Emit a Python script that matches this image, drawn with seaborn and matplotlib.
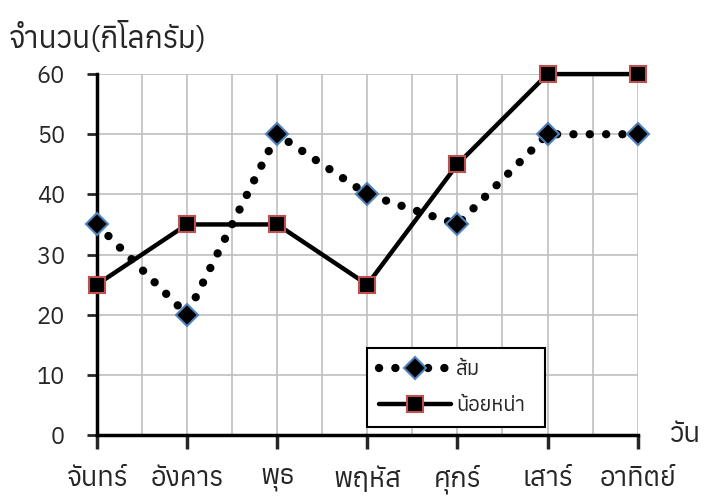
import pandas as pd
import seaborn as sns
import matplotlib
matplotlib.use("Agg")
import matplotlib.pyplot as plt
from matplotlib import font_manager
from matplotlib.ft2font import FT2Font
from matplotlib.ticker import MultipleLocator

# data
days = ["จันทร์", "อังคาร", "พุธ", "พฤหัส", "ศุกร์", "เสาร์", "อาทิตย์"]
orange = [35, 20, 50, 40, 35, 50, 50]      # ส้ม
custard = [25, 35, 35, 25, 45, 60, 60]     # น้อยหน่า
series_names = ["ส้ม", "น้อยหน่า"]

df = pd.DataFrame({
    "day": list(range(len(days))) * 2,
    "value": orange + custard,
    "series": [series_names[0]] * len(days) + [series_names[1]] * len(days),
})


# find an installed font that has Thai glyphs
def thai_font():
    found = []
    for f in font_manager.fontManager.ttflist:
        try:
            if 0x0E08 in FT2Font(f.fname).get_charmap():
                found.append(f.name)
        except Exception:
            pass
    return sorted(set(found))


thai = thai_font()

sns.set_style("white")
plt.rcParams["font.family"] = thai[:1] + ["DejaVu Sans"]

fig = plt.figure(figsize=(7.23, 5.04), dpi=100)
ax = fig.add_axes([0.134, 0.137, 0.748, 0.716])

sns.lineplot(data=df, x="day", y="value", hue="series", style="series",
             palette=["black", "black"], markers=["D", "s"],
             dashes=[(0.01, 2.4), ""], linewidth=3.2, ax=ax, legend=False)

lines = ax.get_lines()
# round dotted line for ส้ม
lines[0].set_linewidth(6)
lines[0].set_linestyle((0, (0.01, 1.95)))
lines[0].set_dash_capstyle("round")
lines[0].set_markersize(11)
lines[0].set_markeredgecolor("#4f81bd")
lines[0].set_markeredgewidth(1.5)
lines[1].set_markersize(12)
lines[1].set_markeredgecolor("#c0504d")
lines[1].set_markeredgewidth(1.5)
for ln in lines[:2]:
    ln.set_markerfacecolor("black")
    ln.set_clip_on(False)
    ln.set_zorder(5)

ax.set_xlim(0, 6)
ax.set_ylim(0, 60)
ax.xaxis.set_major_locator(MultipleLocator(1))
ax.xaxis.set_minor_locator(MultipleLocator(0.5))
ax.yaxis.set_major_locator(MultipleLocator(10))
ax.set_xticks(range(len(days)))
ax.set_xticklabels(days, fontsize=19.5)
ax.tick_params(axis="y", labelsize=17, length=7, width=2, direction="out", left=True, pad=16)
ax.tick_params(axis="x", which="major", length=10, width=2.5, direction="out", bottom=True, pad=12)
ax.tick_params(axis="x", which="minor", length=0)
ax.grid(True, which="both", axis="x", color="#bfbfbf", linewidth=1.2)
ax.grid(True, which="major", axis="y", color="#bfbfbf", linewidth=1.2)
for s in ["top", "right"]:
    ax.spines[s].set_visible(False)
for s in ["left", "bottom"]:
    ax.spines[s].set_color("black")
    ax.spines[s].set_linewidth(2.5)
    ax.spines[s].set_zorder(4)
ax.set_xlabel("")
ax.set_ylabel("")

leg = ax.legend(lines[:2], series_names, loc="lower left",
                bbox_to_anchor=(0.499, 0.022, 0.329, 0.219), mode="expand",
                borderaxespad=0, frameon=True, fancybox=False,
                edgecolor="black", framealpha=1,
                handlelength=3.6, handletextpad=0.25, fontsize=14.5,
                borderpad=0.6, labelspacing=0.85)
leg.get_frame().set_linewidth(1.5)
leg.set_zorder(6)

fig.text(0.012, 0.925, "จำนวน(กิโลกรัม)", fontsize=21.5, va="center")
ax.text(1.06, 0.0, "วัน", transform=ax.transAxes, fontsize=20, va="center")

fig.savefig("out.png", dpi=100)
